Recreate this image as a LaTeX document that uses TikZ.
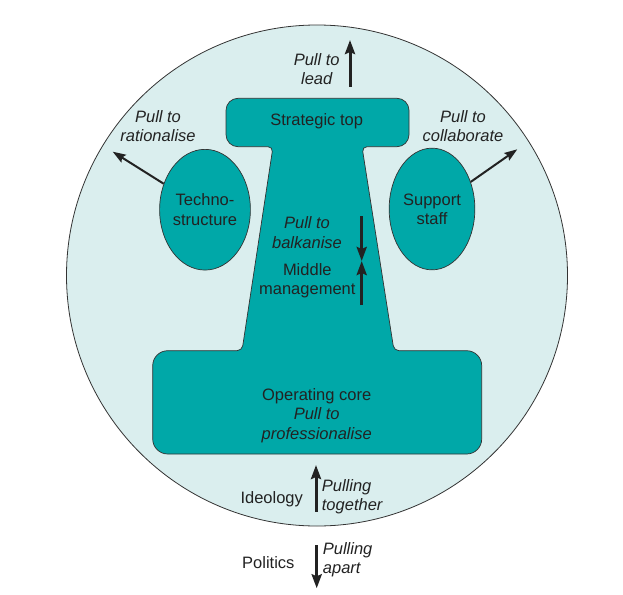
\documentclass[tikz,border=0pt]{standalone}
\usepackage{fontspec}
\setmainfont{Liberation Sans}
\usetikzlibrary{arrows.meta,shapes.geometric}
\definecolor{tealfill}{HTML}{00A8A8}
\definecolor{palefill}{HTML}{DAEEEE}
\definecolor{edgecol}{HTML}{333333}
\definecolor{txt}{HTML}{222222}
\begin{document}
\begin{tikzpicture}[x=1pt,y=-1pt,
  font=\fontsize{16.5}{19.3}\selectfont,
  lbl/.style={inner sep=0pt, align=center, text=txt},
  lblleft/.style={inner sep=0pt, align=left, text=txt, anchor=west},
  oval/.style={ellipse, draw=edgecol, line width=0.7pt, fill=tealfill, inner sep=0pt, align=center, text=txt},
  bigarrow/.style={line width=3pt, draw=txt, -{Stealth[length=14pt,width=10pt,inset=2pt]}},
  thinarrow/.style={line width=2pt, draw=txt, -{Stealth[length=13pt,width=9pt,inset=2pt]}}]
\useasboundingbox (0,0) rectangle (623,594);
% outer circle
\node[circle, draw=edgecol, line width=0.8pt, fill=palefill, minimum size=501pt, inner sep=0pt] (org) at (317,275.5) {};
% main shape
\path[draw=edgecol, line width=0.7pt, fill=tealfill]
  (317,98.3) [rounded corners=12pt] -- (409,98.3) -- (409,146.7)
  [rounded corners=5pt] -- (362,146.7) -- (394,350.7)
  [rounded corners=15pt] -- (481.7,350.7) -- (481.7,454) -- (152.7,454) -- (152.7,350.7)
  [rounded corners=5pt] -- (242,350.7) -- (273,146.7)
  [rounded corners=12pt] -- (226,146.7) -- (226,98.3) -- cycle;
% ovals
\node[oval, minimum width=86.6pt, minimum height=120.7pt] (tech) at (205,209.7) {Techno-\\structure};
\node[oval, minimum width=85.7pt, minimum height=121.7pt] (supp) at (432,209) {Support\\staff};
% texts
\node[lbl] (strat) at (316.7,121.7) {Strategic top};
\node[lbl] (lead) at (316.7,69.3) {\itshape Pull to\\\itshape lead};
\node[lbl] (ratn) at (158,126) {\itshape Pull to\\\itshape rationalise};
\node[lbl] (coll) at (463,126) {\itshape Pull to\\\itshape collaborate};
\node[lbl] (balk) at (307,232.6) {\itshape Pull to\\\itshape balkanise};
\node[lbl] (mid) at (307.3,281) {Middle\\management};
\node[lbl] (core) at (316.7,415.5) {Operating core\\\itshape Pull to\\\itshape professionalise};
\node[lbl, anchor=base] (ideo) at (271.7,503.3) {Ideology};
\node[lblleft] (tog) at (321.7,496.5) {\itshape Pulling\\\itshape together};
\node[lbl, anchor=base] (pol) at (268.3,568.3) {Politics};
\node[lblleft] (apart) at (322.7,559.7) {\itshape Pulling\\\itshape apart};
% arrow coordinates
\coordinate (leadA) at (350,86.7);
\coordinate (leadB) at (350,40);
\coordinate (ratTip) at (112.7,151.7);
\coordinate (colTip) at (517.3,149.3);
\coordinate (balkA) at (361.7,216);
\coordinate (balkM) at (361.7,261);
\coordinate (balkB) at (361.7,305);
\coordinate (ideoA) at (316,511.7);
\coordinate (ideoB) at (316,465);
\coordinate (polA) at (316.7,545);
\coordinate (polB) at (316.7,588.3);
% arrows
\draw[bigarrow] (leadA) -- (leadB);
\draw[thinarrow] (tech) -- (ratTip);
\draw[thinarrow] (supp) -- (colTip);
\draw[bigarrow] (balkA) -- (balkM);
\draw[bigarrow] (balkB) -- (balkM);
\draw[bigarrow] (ideoA) -- (ideoB);
\draw[bigarrow] (polA) -- (polB);
\end{tikzpicture}
\end{document}
